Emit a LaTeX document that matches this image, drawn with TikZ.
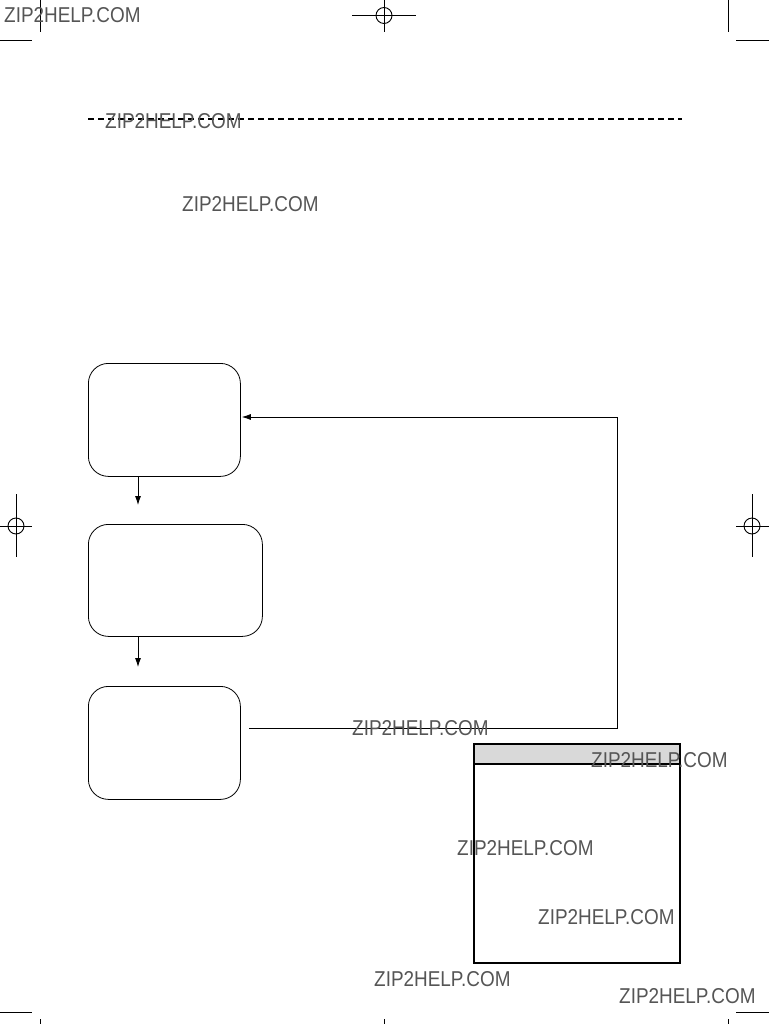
\documentclass[tikz,border=0pt]{standalone}
\usepackage{fontspec}
\setmainfont{Liberation Sans}
\usetikzlibrary{arrows.meta}
\definecolor{wmgray}{HTML}{555555}
\definecolor{bandgray}{HTML}{D9D9D9}
\begin{document}
\begin{tikzpicture}[x=1pt,y=-1pt,
  box/.style={draw, line width=0.8pt, rounded corners=20pt, anchor=north west, inner sep=0pt},
  flow/.style={line width=0.8pt, -{Latex[length=9pt,width=6pt]}},
  plain/.style={line width=0.8pt},
  crop/.style={line width=0.9pt},
  wm/.style={anchor=base west, inner sep=0pt, text=wmgray, font=\fontsize{21.5}{21.5}\selectfont}]
\useasboundingbox[fill=white] (0,0) rectangle (769,1024);

% crop marks
\draw[crop] (40,0) -- (40,32);
\draw[crop] (0,40.7) -- (32,40.7);
\draw[crop] (728.7,0) -- (728.7,32);
\draw[crop] (736,40.7) -- (769,40.7);
\draw[crop] (352,15.5) -- (416,15.5);
\draw[crop] (384,0) -- (384,31.7);
\draw[crop] (384,15.5) circle (8pt);
\draw[crop] (16,494) -- (16,557);
\draw[crop] (0,526) -- (32,526);
\draw[crop] (16,526) circle (8pt);
\draw[crop] (752,494) -- (752,557);
\draw[crop] (736,526) -- (769,526);
\draw[crop] (752,526) circle (8pt);
\draw[crop] (0,1012.7) -- (32,1012.7);
\draw[crop] (736,1012.7) -- (769,1012.7);
\draw[crop] (40,1019) -- (40,1024);
\draw[crop] (384,1019) -- (384,1024);
\draw[crop] (728.7,1019) -- (728.7,1024);

% dashed rule
\draw[line width=2.5pt, dash pattern=on 6pt off 4pt] (88,119) -- (682,119);

% flow boxes
\node[box, minimum width=152pt, minimum height=113pt] (b1) at (88,363) {};
\node[box, minimum width=174pt, minimum height=112pt] (b2) at (88,524) {};
\node[box, minimum width=152pt, minimum height=113pt] (b3) at (88,686) {};

\coordinate (a1) at (138,505);
\coordinate (a2) at (138,667);
\draw[flow] (b1.south -| a1) -- (a1);
\draw[flow] (b2.south -| a2) -- (a2);

\coordinate (fs) at (249,728);
\coordinate (c1) at (617,417);
\draw[flow] (fs) -| (c1) -- ([xshift=1pt]c1 -| b1.east);

% panel
\fill[bandgray] (473,743) rectangle (679,764);
\node[draw, line width=2pt, anchor=north west, inner sep=0pt, minimum width=206pt, minimum height=219pt] (pan) at (473,743) {};
\draw[line width=2pt] (pan.west |- 0,764) -- (pan.east |- 0,764);

% watermarks
\node[wm] (w1) at (4,22.5) {\scalebox{0.88}[1]{ZIP2HELP.COM}};
\node[wm] (w2) at (105,129) {\scalebox{0.88}[1]{ZIP2HELP.COM}};
\node[wm] (w3) at (182,212) {\scalebox{0.88}[1]{ZIP2HELP.COM}};
\node[wm] (w4) at (352,735) {\scalebox{0.88}[1]{ZIP2HELP.COM}};
\node[wm] (w5) at (591,767) {\scalebox{0.88}[1]{ZIP2HELP.COM}};
\node[wm] (w6) at (457,855) {\scalebox{0.88}[1]{ZIP2HELP.COM}};
\node[wm] (w7) at (538,924) {\scalebox{0.88}[1]{ZIP2HELP.COM}};
\node[wm] (w8) at (374,986) {\scalebox{0.88}[1]{ZIP2HELP.COM}};
\node[wm] (w9) at (619,1003) {\scalebox{0.88}[1]{ZIP2HELP.COM}};
\end{tikzpicture}
\end{document}
